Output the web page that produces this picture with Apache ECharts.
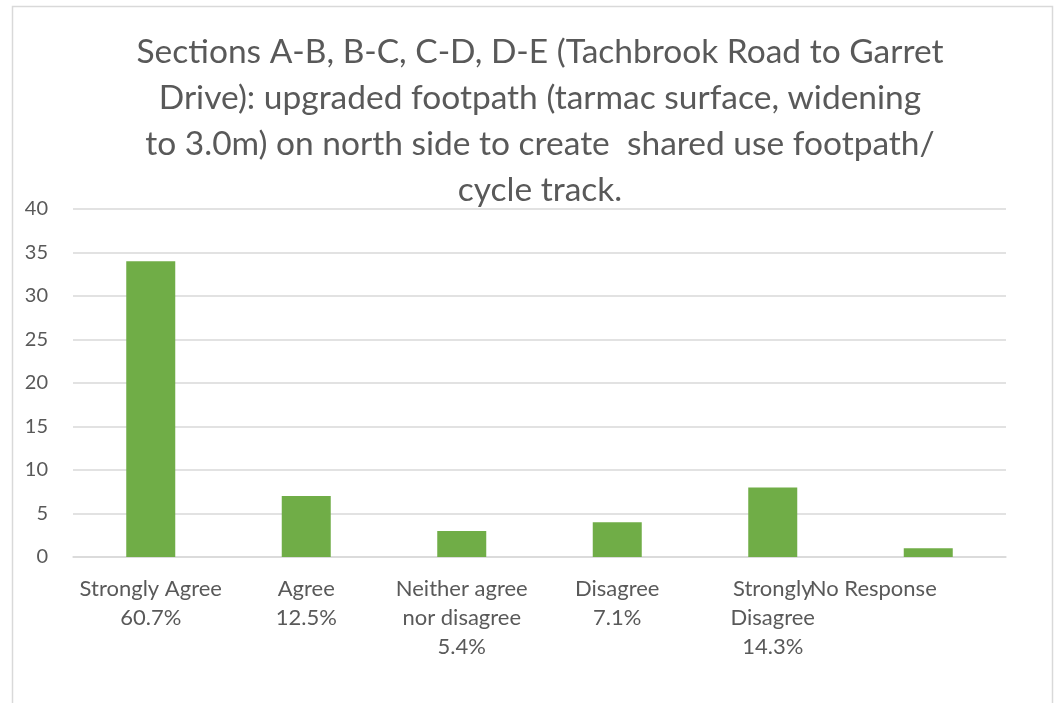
<!DOCTYPE html>
<html>
<head>
<meta charset="utf-8">
<script src="https://cdn.jsdelivr.net/npm/echarts@6/dist/echarts.min.js"></script>
<style>
  html, body { margin: 0; padding: 0; background: #fff; }
  #chart { width: 1059px; height: 703px; }
</style>
</head>
<body>
<div id="chart"></div>
<script>
// categories and the percentages shown under them
var categories = ["Strongly Agree", "Agree", "Neither agree\nnor disagree", "Disagree", "Strongly\nDisagree", "No Response"];
var percents = ["60.7%", "12.5%", "5.4%", "7.1%", "14.3%", ""];
var counts = [34, 7, 3, 4, 8, 1];
var yTicks = { min: 0, max: 40, interval: 5 };

var titleText = "Sections A-B, B-C, C-D, D-E (Tachbrook Road to Garret\nDrive): upgraded footpath (tarmac surface, widening\nto 3.0m) on north side to create  shared use footpath/\ncycle track.";

var labels = categories.map(function (c, i) {
  return percents[i] ? c + "\n" + percents[i] : c;
});

var chart = echarts.init(document.getElementById("chart"));
chart.setOption({
  backgroundColor: "#fff",
  animation: false,
  graphic: [
    {
      type: "rect",
      shape: { x: 12.5, y: 6.5, width: 1040, height: 730 },
      style: { fill: "none", stroke: "#d9d9d9", lineWidth: 1.5 },
      z: -1
    },
    {
      type: "text",
      x: 540,
      y: 29,
      style: {
        text: titleText,
        fill: "#595959",
        font: "33.5px Lato",
        lineHeight: 46,
        align: "center",
        verticalAlign: "top"
      },
      z: 10
    }
  ],
  grid: { left: 73, right: 53, top: 209, bottom: 146 },
  xAxis: {
    type: "category",
    data: labels,
    axisLine: { lineStyle: { color: "#d9d9d9", width: 1.5 } },
    axisTick: { show: false },
    axisLabel: {
      interval: 0,
      margin: 17,
      color: "#595959",
      fontFamily: "Lato",
      fontSize: 22,
      lineHeight: 29,
      formatter: function (v, i) {
        if (i === labels.length - 1) return "{shift|" + v + "}";
        return v;
      },
      rich: {
        shift: { color: "#595959", fontFamily: "Lato", fontSize: 22, padding: [0, 110, 0, 0] }
      }
    }
  },
  yAxis: {
    type: "value",
    min: yTicks.min,
    max: yTicks.max,
    interval: yTicks.interval,
    axisLine: { show: false },
    axisTick: { show: false },
    splitLine: { lineStyle: { color: "#d9d9d9", width: 1.5 } },
    axisLabel: { color: "#595959", fontFamily: "Lato", fontSize: 20, margin: 25 }
  },
  series: [
    {
      type: "bar",
      data: counts,
      barWidth: 49,
      itemStyle: { color: "#70ad47" }
    }
  ]
});
</script>
</body>
</html>
